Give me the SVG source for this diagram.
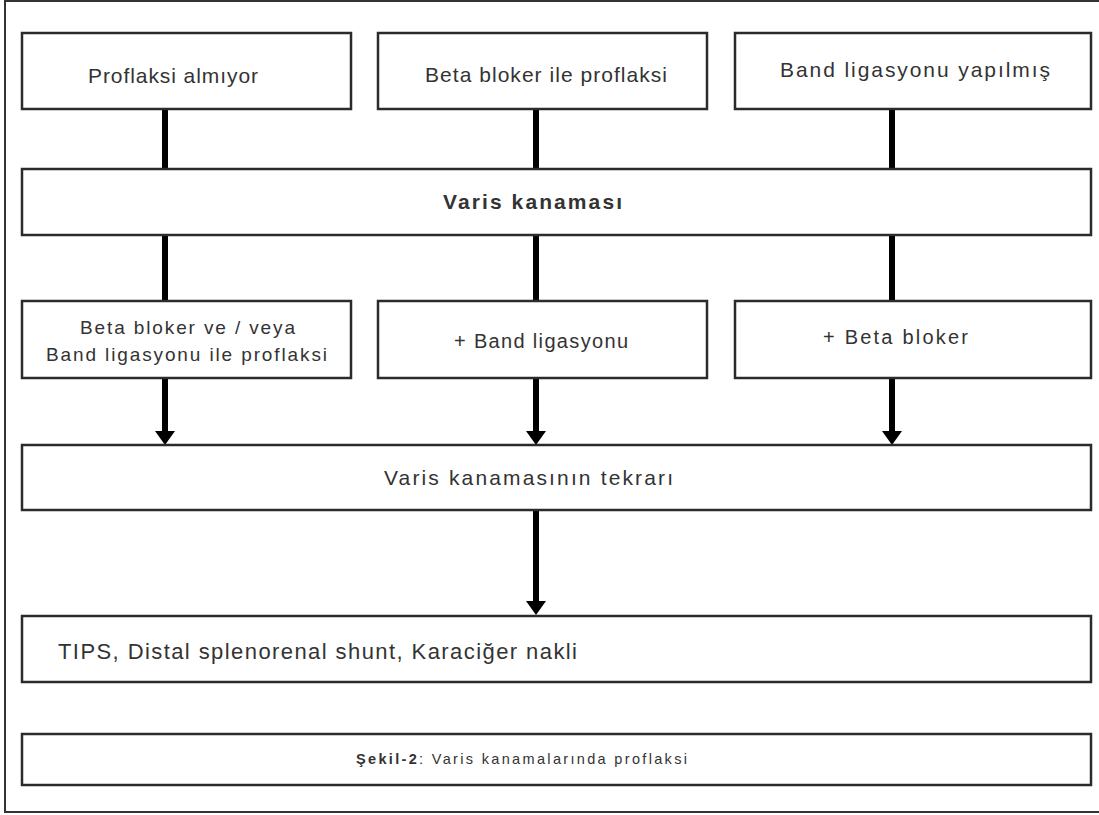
<svg xmlns="http://www.w3.org/2000/svg" width="1099" height="815" viewBox="0 0 1099 815">
<style>
.box{fill:#fff;stroke:#2b2b2b;stroke-width:2.5}
.t{font-family:"Liberation Sans",Arial,sans-serif;fill:#333}
.conn{stroke:#000;stroke-width:6;fill:none}
</style>
<defs>
<marker id="ah" markerUnits="userSpaceOnUse" markerWidth="20" markerHeight="22" viewBox="0 -11 16 22" refX="6" refY="0" orient="auto">
<path d="M0,-10 L14,0 L0,10 Z" fill="#000"/>
</marker>
</defs>
<rect x="0" y="0" width="1099" height="815" fill="#fff"/>
<rect id="frame" x="5" y="1" width="1100" height="811" fill="none" stroke="#333" stroke-width="2"/>
<g id="connectors">
<line class="conn" x1="165" y1="109" x2="165" y2="169"/>
<line class="conn" x1="536" y1="109" x2="536" y2="169"/>
<line class="conn" x1="892" y1="109" x2="892" y2="169"/>
<line class="conn" x1="165" y1="235" x2="165" y2="301"/>
<line class="conn" x1="536" y1="235" x2="536" y2="301"/>
<line class="conn" x1="892" y1="235" x2="892" y2="301"/>
<line class="conn" x1="165" y1="378" x2="165" y2="437" marker-end="url(#ah)"/>
<line class="conn" x1="536" y1="378" x2="536" y2="437" marker-end="url(#ah)"/>
<line class="conn" x1="892" y1="378" x2="892" y2="437" marker-end="url(#ah)"/>
<line class="conn" x1="536" y1="510" x2="536" y2="607" marker-end="url(#ah)"/>
</g>
<g id="n1"><rect class="box" x="22" y="33" width="329" height="76"/>
<text class="t" x="88" y="83" font-size="21" textLength="170" lengthAdjust="spacing">Proflaksi almıyor</text></g>
<g id="n2"><rect class="box" x="378" y="33" width="329" height="76"/>
<text class="t" x="425" y="82" font-size="21" textLength="242" lengthAdjust="spacing">Beta bloker ile proflaksi</text></g>
<g id="n3"><rect class="box" x="735" y="33" width="356" height="76"/>
<text class="t" x="780" y="77" font-size="21" textLength="270" lengthAdjust="spacing">Band ligasyonu yapılmış</text></g>
<g id="n4"><rect class="box" x="22" y="169" width="1069" height="66"/>
<text class="t" x="443" y="209" font-size="21" font-weight="bold" textLength="179" lengthAdjust="spacing">Varis kanaması</text></g>
<g id="n5"><rect class="box" x="22" y="301" width="329" height="77"/>
<text class="t" x="80" y="334" font-size="19" textLength="215" lengthAdjust="spacing">Beta bloker ve / veya</text>
<text class="t" x="46" y="361" font-size="19" textLength="281" lengthAdjust="spacing">Band ligasyonu ile proflaksi</text></g>
<g id="n6"><rect class="box" x="378" y="301" width="329" height="77"/>
<text class="t" x="454" y="348" font-size="20" textLength="174" lengthAdjust="spacing">+ Band ligasyonu</text></g>
<g id="n7"><rect class="box" x="735" y="301" width="356" height="77"/>
<text class="t" x="823" y="344" font-size="20" textLength="145" lengthAdjust="spacing">+ Beta bloker</text></g>
<g id="n8"><rect class="box" x="22" y="445" width="1069" height="65"/>
<text class="t" x="384" y="485" font-size="21" textLength="289" lengthAdjust="spacing">Varis kanamasının tekrarı</text></g>
<g id="n9"><rect class="box" x="22" y="616" width="1069" height="66"/>
<text class="t" x="58" y="659" font-size="22" textLength="519" lengthAdjust="spacing">TIPS, Distal splenorenal shunt, Karaciğer nakli</text></g>
<g id="n10"><rect class="box" x="22" y="734" width="1069" height="51"/>
<text class="t" x="356" y="764" font-size="14.5" textLength="331" lengthAdjust="spacing"><tspan font-weight="bold">Şekil-2</tspan>: Varis kanamalarında proflaksi</text></g>
</svg>
